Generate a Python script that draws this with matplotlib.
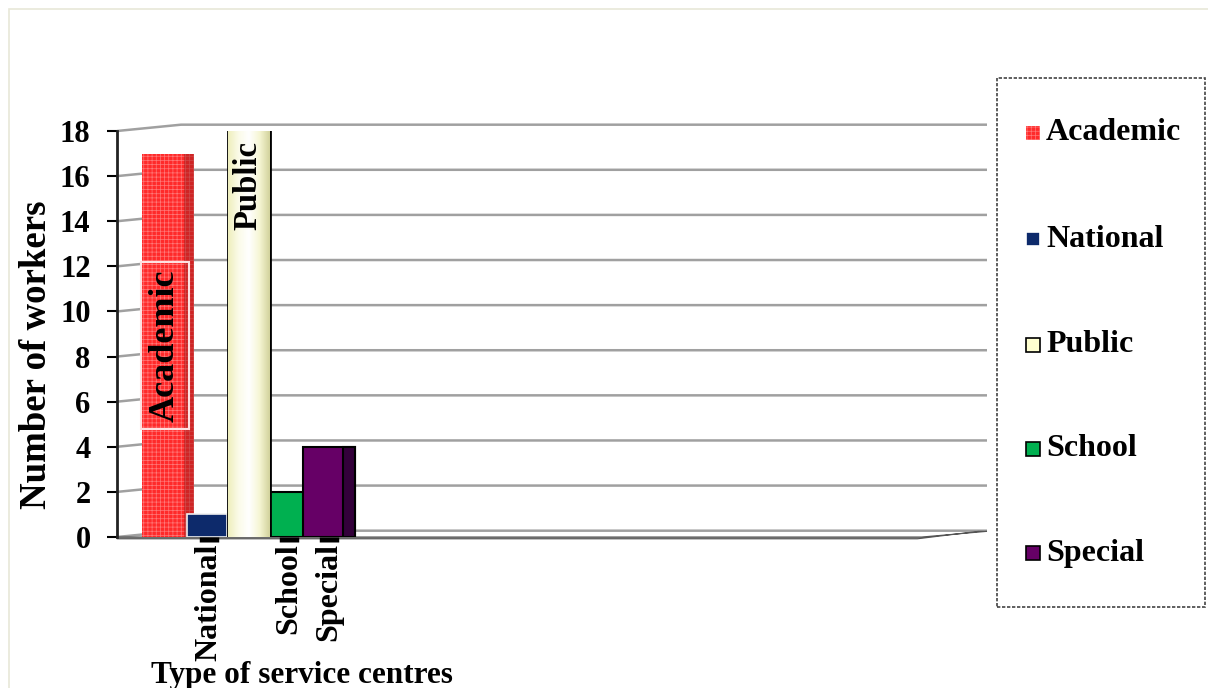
import numpy as np
import matplotlib
matplotlib.use("Agg")
import matplotlib.pyplot as plt
from matplotlib.patches import Rectangle, Polygon
from matplotlib.colors import LinearSegmentedColormap

plt.rcParams['font.family'] = ['Liberation Serif', 'DejaVu Serif']
plt.rcParams['font.weight'] = 'bold'
plt.rcParams['hatch.linewidth'] = 0.5

# ---- data ----
categories = ["Academic", "National", "Public", "School", "Special"]
values = [17, 1, 18, 2, 4]
y_ticks = [0, 2, 4, 6, 8, 10, 12, 14, 16, 18]
x_tick_labels = ["National", "School", "Special"]
x_title = "Type of service centres"
y_title = "Number of workers"

colors = ["#ff2a2a", "#0d2a6b", "#ffffd0", "#00b050", "#660066"]
side_colors = ["#a02020", "#0d2a6b", "#d6d6a6", "#00b050", "#33003a"]

W, H = 1208, 688
fig = plt.figure(figsize=(W / 100, H / 100), dpi=100)

# outer light frame
fig.patches.append(Rectangle((9 / W, -0.05), 1.2, 1 - 9 / H + 0.05, transform=fig.transFigure,
                             fill=False, edgecolor="#e8e8d8", lw=1.2))

ax_l, ax_r, ax_t, ax_b = 117, 987, 131, 537
ax = fig.add_axes([ax_l / W, 1 - ax_b / H, (ax_r - ax_l) / W, (ax_b - ax_t) / H])
unit = 40.0  # px per x unit
xmax = (ax_r - ax_l) / unit
ax.set_xlim(0, xmax)
ax.set_ylim(0, 18)

pos = 1.3 + np.arange(len(categories)) * 1.0
widths = [1.3, 1.0, 1.05, 1.0, 1.3]
zorders = [2, 3, 5, 4, 6]

bars = []
for i, (c, v) in enumerate(zip(categories, values)):
    if c == "Academic":
        b = ax.bar(pos[i] - 0.03, v, width=widths[i], color=colors[i], edgecolor="#ff7878",
                   linewidth=0, hatch="++++", zorder=zorders[i])[0]
    elif c == "Public":
        b = ax.bar(pos[i], v, width=widths[i], color=colors[i], edgecolor="black",
                   linewidth=2, zorder=zorders[i])[0]
    elif c == "National":
        b = ax.bar(pos[i] - 0.05, v, width=widths[i], color=colors[i], edgecolor="#f0f0f0",
                   linewidth=1.2, zorder=zorders[i])[0]
    else:
        b = ax.bar(pos[i], v, width=widths[i], color=colors[i], edgecolor="black",
                   linewidth=1.5, zorder=zorders[i])[0]
    bars.append(b)

# darker side strips (pseudo 3D)
for i, b in enumerate(bars):
    x0, w, h = b.get_x(), b.get_width(), b.get_height()
    if categories[i] == "Academic":
        ax.add_patch(Rectangle((x0 + w - 0.25, 0), 0.25, h, facecolor=side_colors[i],
                               alpha=0.5, edgecolor="none", zorder=zorders[i] + 0.1))
    if categories[i] == "National":
        ax.add_patch(Rectangle((x0 + w, 0), 0.1, h, facecolor=side_colors[i],
                               edgecolor="none", zorder=zorders[i] - 0.1))
    if categories[i] == "Special":
        ax.add_patch(Rectangle((x0 + w - 0.3, 0), 0.3, h, facecolor=side_colors[i],
                               edgecolor="black", lw=1.5, zorder=zorders[i] + 0.1))
    if categories[i] == "Public":
        cmap = LinearSegmentedColormap.from_list(
            "pub", ["#eeeebc", "#fbfbe8", "#ffffff", "#f6f6d4", "#d2d29c"])
        grad = np.linspace(0, 1, 256).reshape(1, -1)
        im = ax.imshow(grad, extent=[x0, x0 + w, 0, h], aspect="auto", cmap=cmap,
                       zorder=zorders[i] + 0.05)
        im.set_clip_path(b)
        ax.set_xlim(0, xmax)
        ax.set_ylim(0, 18)

# in-bar labels
ia = categories.index("Academic")
ax.text(pos[ia] - 0.1, values[ia] / 2, "Academic", rotation=90, ha="center", va="center",
        fontsize=26, fontweight="bold", color="black", zorder=10,
        bbox=dict(boxstyle="square,pad=0.2", facecolor="none", edgecolor="#ffe0e0", lw=1.5))
ip = categories.index("Public")
ax.text(pos[ip] - 0.02, values[ip] - 0.45, "Public", rotation=90, ha="center", va="top",
        fontsize=23.5, fontweight="bold", color="black", zorder=10)

# gridlines with slight perspective at the left
for v in y_ticks:
    ax.plot([0, 1.6, xmax], [v, v + 0.28, v + 0.28], color="#a0a0a0", lw=1.8,
            zorder=1, clip_on=False, solid_capstyle="butt")

# floor slab
ax.add_patch(Polygon([[0, 0], [xmax * 0.925, 0], [xmax, 0.25], [xmax * 0.99, 0.25],
                      [xmax * 0.92, -0.08], [0, -0.08]], closed=True,
                     facecolor="#8c8c8c", edgecolor="#555555", lw=0.8,
                     zorder=1.5, clip_on=False))

# axes styling
for s in ["top", "right", "bottom"]:
    ax.spines[s].set_visible(False)
ax.spines["left"].set_color("#222222")
ax.spines["left"].set_linewidth(2)
ax.set_yticks(y_ticks)
ax.set_yticklabels([str(t) for t in y_ticks], fontsize=22, fontweight="bold")
ax.tick_params(axis="y", length=7, width=1.5, color="black", pad=12)

tick_pos = [pos[categories.index(c)] for c in x_tick_labels]
ax.set_xticks(tick_pos)
ax.set_xticklabels(x_tick_labels, rotation=90, fontsize=23, fontweight="bold", va="top")
ax.tick_params(axis="x", length=3.5, width=14, color="black", pad=1, direction="out")

fig.text(37 / W, 1 - 355 / H, y_title, rotation=90, ha="center", va="center",
         fontsize=26.5, fontweight="bold")
fig.text(302 / W, 1 - 675 / H, x_title, ha="center", va="center", fontsize=22.5,
         fontweight="bold")

# legend box
lx0, lx1, ly0, ly1 = 997, 1205, 78, 607
fig.patches.append(Rectangle((lx0 / W, 1 - ly1 / H), (lx1 - lx0) / W, (ly1 - ly0) / H,
                             transform=fig.transFigure, fill=False, edgecolor="#444444",
                             lw=1.2, linestyle=(0, (2, 1))))
leg_y = [133, 239, 345, 449, 553]
leg_edges = ["none", "#ffffff", "black", "black", "black"]
for i, c in enumerate(categories):
    yc = 1 - leg_y[i] / H
    sq = 14
    fig.patches.append(Rectangle((1026 / W, yc - (sq / 2) / H), sq / W, sq / H,
                                 transform=fig.transFigure, facecolor=colors[i],
                                 edgecolor=("#ff7878" if c == "Academic" else leg_edges[i]),
                                 lw=(0 if c == "Academic" else 1.2),
                                 hatch="++++" if c == "Academic" else None))
    fig.text(1046 / W, yc, c, ha="left", va="center", fontsize=23, fontweight="bold")

fig.savefig("out.png", dpi=100)
